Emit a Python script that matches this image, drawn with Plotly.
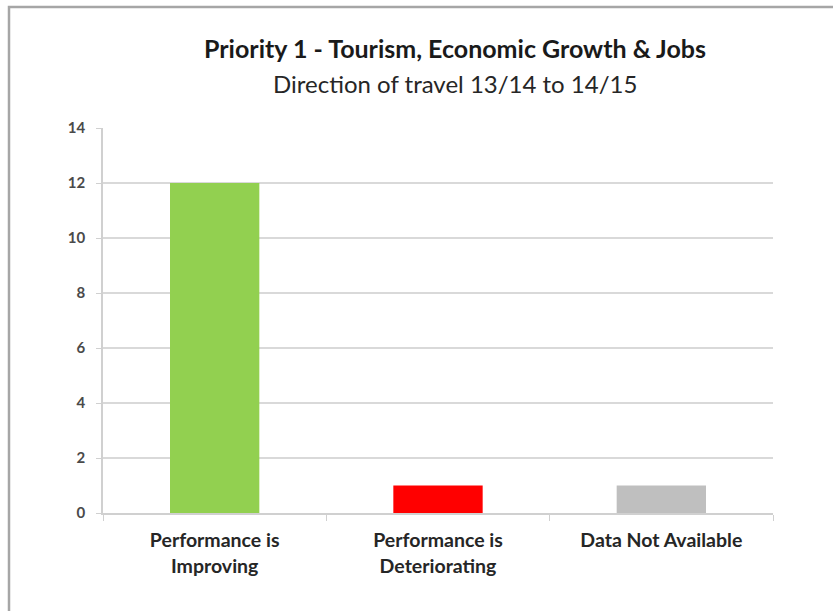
import plotly.graph_objects as go

categories = ["Performance is<br>Improving", "Performance is<br>Deteriorating", "Data Not Available"]
values = [12, 1, 1]
bar_colors = ["#92D050", "#FF0000", "#BFBFBF"]
y_ticks = [0, 2, 4, 6, 8, 10, 12, 14]

title_text = "Priority 1 - Tourism, Economic Growth & Jobs"
subtitle_text = "Direction of travel 13/14 to 14/15"

W, H = 833, 611
ml, mr, mt, mb = 103, 60, 128, 98
pw = W - ml - mr
ph = H - mt - mb

def px_x(x):
    return (x - ml) / pw

def px_y(y):
    return (H - mb - y) / ph

fig = go.Figure(go.Bar(
    x=categories, y=values, marker_color=bar_colors, marker_line_width=0,
    width=0.4, hoverinfo="x+y"
))

fig.update_layout(
    width=W, height=H,
    margin=dict(l=ml, r=mr, t=mt, b=mb),
    paper_bgcolor="white", plot_bgcolor="white",
    showlegend=False,
    font=dict(family="Lato, Carlito, Calibri, sans-serif", color="#404040"),
    xaxis=dict(
        showgrid=False, showline=True, linecolor="#D0D0D0", linewidth=1.5,
        ticks="outside", tickson="boundaries", ticklen=6, tickcolor="#D0D0D0",
        tickfont=dict(size=19.5, color="#262626", family="Lato, sans-serif", weight="bold"),
        ticklabelstandoff=9,
        fixedrange=True,
    ),
    yaxis=dict(
        range=[0, 14], tickvals=y_ticks, showgrid=True, gridcolor="#D9D9D9", gridwidth=1.5,
        showline=True, linecolor="#D0D0D0", linewidth=1.5, ticks="outside", ticklen=5,
        tickcolor="#D0D0D0", zeroline=False,
        tickfont=dict(size=15, color="#4a4a4a", family="Lato, sans-serif", weight="bold"),
        ticklabelstandoff=8,
        fixedrange=True,
    ),
    annotations=[
        dict(text="<b>" + title_text + "</b>", xref="paper", yref="paper",
             x=px_x(455), y=px_y(48), xanchor="center", yanchor="middle",
             showarrow=False, font=dict(size=25, color="#1a1a1a", family="Lato, sans-serif")),
        dict(text=subtitle_text, xref="paper", yref="paper",
             x=px_x(455), y=px_y(83), xanchor="center", yanchor="middle",
             showarrow=False, font=dict(size=24, color="#262626", family="Lato, sans-serif")),
    ],
    shapes=[
        dict(type="rect", xref="paper", yref="paper",
             x0=px_x(9), x1=px_x(850), y0=px_y(630), y1=px_y(7),
             line=dict(color="#A6A6A6", width=2.5), fillcolor="rgba(0,0,0,0)", layer="above"),
    ],
)

fig.write_html("out.html", config={"displayModeBar": False},
               post_script="document.body.style.margin='0';")
